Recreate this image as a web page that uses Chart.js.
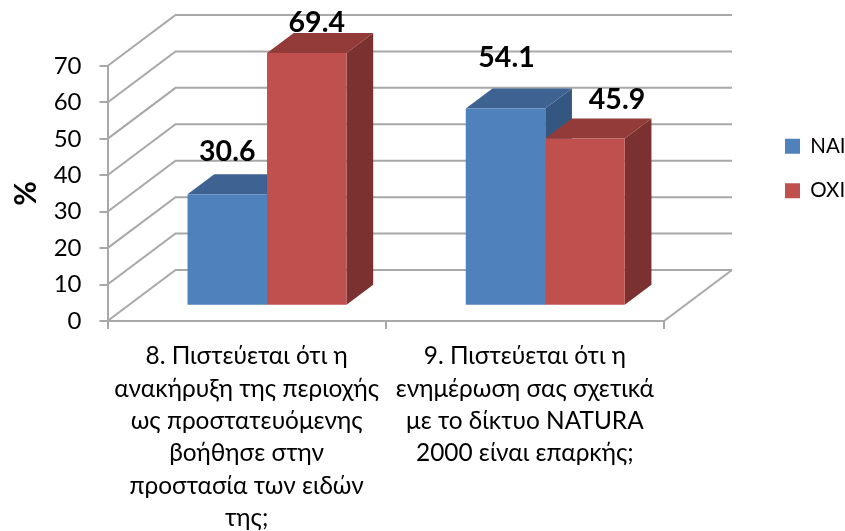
<!DOCTYPE html>
<html lang="el"><head><meta charset="utf-8">
<script src="https://cdn.jsdelivr.net/npm/chart.js@4"></script>
<style>html,body{margin:0;padding:0;background:#fff}canvas{display:block}</style></head>
<body><canvas id="c" width="845" height="531"></canvas>
<script>
const categories = [
  ["8. Πιστεύεται ότι η","ανακήρυξη της περιοχής","ως προστατευόμενης","βοήθησε στην","προστασία των ειδών","της;"],
  ["9. Πιστεύεται ότι η","ενημέρωση σας σχετικά","με το δίκτυο NATURA","2000 είναι επαρκής;"]
];
const naiValues = [30.6, 54.1];
const oxiValues = [69.4, 45.9];
const seriesNames = ["ΝΑΙ", "ΌΧΙ"];
const yTicks = [0,10,20,30,40,50,60,70];

const FONT = 'Lato, "Open Sans", "Noto Sans", sans-serif';
const GRID = '#a8a8a8';
const WALL = {dx:68, dy:-51};       // depth of the 3D box
const PLANE = {dx:20.4, dy:-15.3};  // front plane of the bars
const BAR = {dx:26.7, dy:-20};      // depth of each bar
const FACES = [{top:'#3e6291', side:'#345781'},{top:'#923b39', side:'#7b312f'}];
const box3d = {
  id:'box3d',
  afterLayout(chart){
    const l = chart.legend;
    const h = l.bottom - l.top, w = l.right - l.left;
    l.left = 761; l.right = l.left + w;
    l.top = 112; l.bottom = l.top + h;
  },
  beforeDatasetsDraw(chart){
    const {ctx, chartArea:a, scales:{y}} = chart;
    ctx.save();
    ctx.strokeStyle = GRID; ctx.lineWidth = 2;
    yTicks.forEach(v=>{
      const py = y.getPixelForValue(v);
      ctx.beginPath();
      ctx.moveTo(a.left,py);
      ctx.lineTo(a.left+WALL.dx,py+WALL.dy);
      ctx.lineTo(a.right+WALL.dx,py+WALL.dy);
      ctx.stroke();
    });
    ctx.beginPath();
    ctx.moveTo(a.right,a.bottom);
    ctx.lineTo(a.right+WALL.dx,a.bottom+WALL.dy);
    ctx.stroke();
    ctx.restore();
    ctx.save();
    ctx.translate(PLANE.dx,PLANE.dy);
    chart.data.datasets.forEach((d,i)=>{
      chart.getDatasetMeta(i).data.forEach(b=>{
        const {x,y:t,base,width} = b.getProps(['x','y','base','width'],true);
        const L=x-width/2,R=x+width/2;
        ctx.fillStyle=FACES[i].side;
        ctx.beginPath();ctx.moveTo(R,t);ctx.lineTo(R+BAR.dx,t+BAR.dy);ctx.lineTo(R+BAR.dx,base+BAR.dy);ctx.lineTo(R,base);ctx.closePath();ctx.fill();
        ctx.fillStyle=FACES[i].top;
        ctx.beginPath();ctx.moveTo(L,t);ctx.lineTo(L+BAR.dx,t+BAR.dy);ctx.lineTo(R+BAR.dx,t+BAR.dy);ctx.lineTo(R,t);ctx.closePath();ctx.fill();
      });
    });
  },
  afterDatasetsDraw(chart){
    const ctx = chart.ctx;
    ctx.restore();
    ctx.save();
    ctx.font = 'bold 28.5px '+FONT;
    ctx.fillStyle='#000';ctx.textAlign='center';ctx.textBaseline='middle';
    const nudge = [[[0,-42],[1,-51]],[[10,-30],[32,-39]]];
    chart.data.datasets.forEach((d,i)=>{
      chart.getDatasetMeta(i).data.forEach((b,j)=>{
        const {x,y:t} = b.getProps(['x','y'],true);
        ctx.fillText(d.data[j].toFixed(1), x+PLANE.dx+nudge[i][j][0], t+PLANE.dy+nudge[i][j][1]);
      });
    });
    ctx.restore();
  }
};
new Chart(document.getElementById('c'),{
  type:'bar',
  data:{labels:categories,datasets:[
    {label:seriesNames[0],data:naiValues,backgroundColor:'#4f81bd',clip:false},
    {label:seriesNames[1],data:oxiValues,backgroundColor:'#c0504d',clip:false}
  ]},
  plugins:[box3d],
  options:{
    responsive:false,animation:false,
    layout:{padding:{top:66,right:86.5,bottom:0,left:0}},
    datasets:{bar:{barPercentage:1,categoryPercentage:0.5714}},
    plugins:{
      tooltip:{enabled:false},
      legend:{position:'right',align:'start',labels:{boxWidth:15,boxHeight:15,padding:24,color:'#000',font:{family:FONT,size:20.5}}}
    },
    scales:{
      x:{
        afterFit(s){s.height=210;},
        grid:{drawOnChartArea:false,color:GRID,lineWidth:2,tickLength:8,offset:true},
        border:{color:GRID,width:2},
        ticks:{color:'#000',font:{family:FONT,size:24.4,lineHeight:1.33},padding:11,maxRotation:0,autoSkip:false}
      },
      y:{
        min:0,max:70,
        afterFit(s){s.width=107.5;},
        afterBuildTicks(s){s.ticks=yTicks.map(v=>({value:v}));},
        title:{display:true,text:'%',color:'#000',font:{family:FONT,size:30,weight:'bold'},padding:{top:8,bottom:0}},
        grid:{drawOnChartArea:false,color:GRID,lineWidth:2,tickLength:8},
        border:{color:GRID,width:2},
        ticks:{color:'#000',font:{family:FONT,size:24},padding:18}
      }
    }
  }
});
</script></body></html>
